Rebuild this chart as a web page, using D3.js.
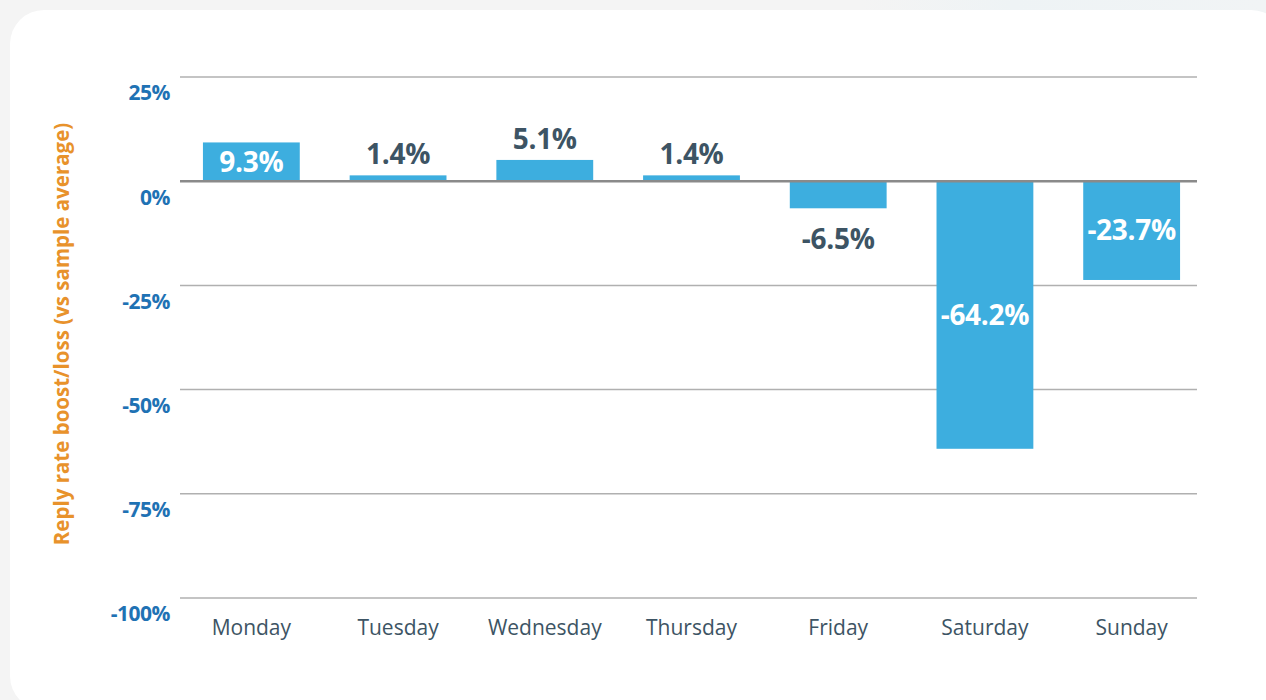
<!DOCTYPE html>
<html>
<head>
<meta charset="utf-8">
<script src="https://cdn.jsdelivr.net/npm/d3@7"></script>
<style>
  html, body { margin: 0; padding: 0; background: #f4f4f4; }
  svg { display: block; font-family: "Open Sans", Roboto, sans-serif; }
</style>
</head>
<body>
<svg id="chart" width="1266" height="700"></svg>
<script>
const days = ['Monday', 'Tuesday', 'Wednesday', 'Thursday', 'Friday', 'Saturday', 'Sunday'];
const boost = [9.3, 1.4, 5.1, 1.4, -6.5, -64.2, -23.7];
const yTicks = [25, 0, -25, -50, -75, -100];

const width = 1266;
const height = 700;
const margin = { top: 77, right: 69, bottom: 102, left: 180 };

const svg = d3.select('#chart');

// soft background tint + white card
const defs = svg.append('defs');
const grad = defs.append('linearGradient').attr('id', 'tint').attr('x1', 0).attr('x2', 1);
grad.append('stop').attr('offset', '0%').attr('stop-color', '#f4f4f4');
grad.append('stop').attr('offset', '68%').attr('stop-color', '#f4f4f4');
grad.append('stop').attr('offset', '80%').attr('stop-color', '#eef3f5');
grad.append('stop').attr('offset', '100%').attr('stop-color', '#f1f4f5');
svg.append('rect').attr('width', width).attr('height', height).attr('fill', 'url(#tint)');
svg.append('rect')
  .attr('x', 10).attr('y', 10)
  .attr('width', 1275).attr('height', 700)
  .attr('rx', 34)
  .attr('fill', '#ffffff');

const x = d3.scaleBand()
  .domain(days)
  .range([178, 1205])
  .paddingInner(0.34)
  .paddingOuter(0.17);

const y = d3.scaleLinear()
  .domain([-100, 25])
  .range([height - margin.bottom, margin.top]);

// grid lines
svg.append('g')
  .selectAll('line')
  .data(yTicks)
  .join('line')
  .attr('x1', margin.left)
  .attr('x2', width - margin.right)
  .attr('y1', (d) => y(d))
  .attr('y2', (d) => y(d))
  .attr('stroke', '#b0b0b0')
  .attr('stroke-width', 1.5);

// y tick labels (sit below their line)
svg.append('g')
  .selectAll('text')
  .data(yTicks)
  .join('text')
  .attr('x', 170)
  .attr('y', (d) => y(d) + 16)
  .attr('dy', '0.35em')
  .attr('text-anchor', 'end')
  .attr('fill', '#1f72b4')
  .attr('font-weight', 'bold')
  .attr('font-size', 21)
  .attr('letter-spacing', -0.5)
  .text((d) => `${d}%`);

// y title
svg.append('text')
  .attr('transform', 'translate(62,334) rotate(-90)')
  .attr('text-anchor', 'middle')
  .attr('dy', '0.35em')
  .attr('fill', '#e8922b')
  .attr('font-weight', 'bold')
  .attr('font-size', 20.5)
  .text('Reply rate boost/loss (vs sample average)');

const data = days.map((d, i) => ({ day: d, value: boost[i] }));

// bars
svg.append('g')
  .selectAll('rect')
  .data(data)
  .join('rect')
  .attr('x', (d) => x(d.day))
  .attr('width', x.bandwidth())
  .attr('y', (d) => y(Math.max(0, d.value)))
  .attr('height', (d) => Math.abs(y(d.value) - y(0)))
  .attr('fill', '#3daedf');

// zero line on top
svg.append('line')
  .attr('x1', margin.left)
  .attr('x2', width - margin.right)
  .attr('y1', y(0))
  .attr('y2', y(0))
  .attr('stroke', '#8a8a8a')
  .attr('stroke-width', 2.5);

// value labels
const inside = (d) => Math.abs(d.value) > 8;
svg.append('g')
  .selectAll('text')
  .data(data)
  .join('text')
  .attr('x', (d) => x(d.day) + x.bandwidth() / 2)
  .attr('y', (d) => {
    if (inside(d)) return (y(d.value) + y(0)) / 2;
    return d.value >= 0 ? y(d.value) - 21 : y(d.value) + 31;
  })
  .attr('dy', '0.35em')
  .attr('text-anchor', 'middle')
  .attr('fill', (d) => (inside(d) ? '#ffffff' : '#3d5464'))
  .attr('font-weight', 'bold')
  .attr('font-size', 28)
  .attr('letter-spacing', -0.3)
  .text((d) => `${d.value}%`);

// category labels
svg.append('g')
  .selectAll('text')
  .data(days)
  .join('text')
  .attr('x', (d) => x(d) + x.bandwidth() / 2)
  .attr('y', 628)
  .attr('dy', '0.35em')
  .attr('text-anchor', 'middle')
  .attr('fill', '#3d5464')
  .attr('font-size', 21)
  .text((d) => d);
</script>
</body>
</html>
